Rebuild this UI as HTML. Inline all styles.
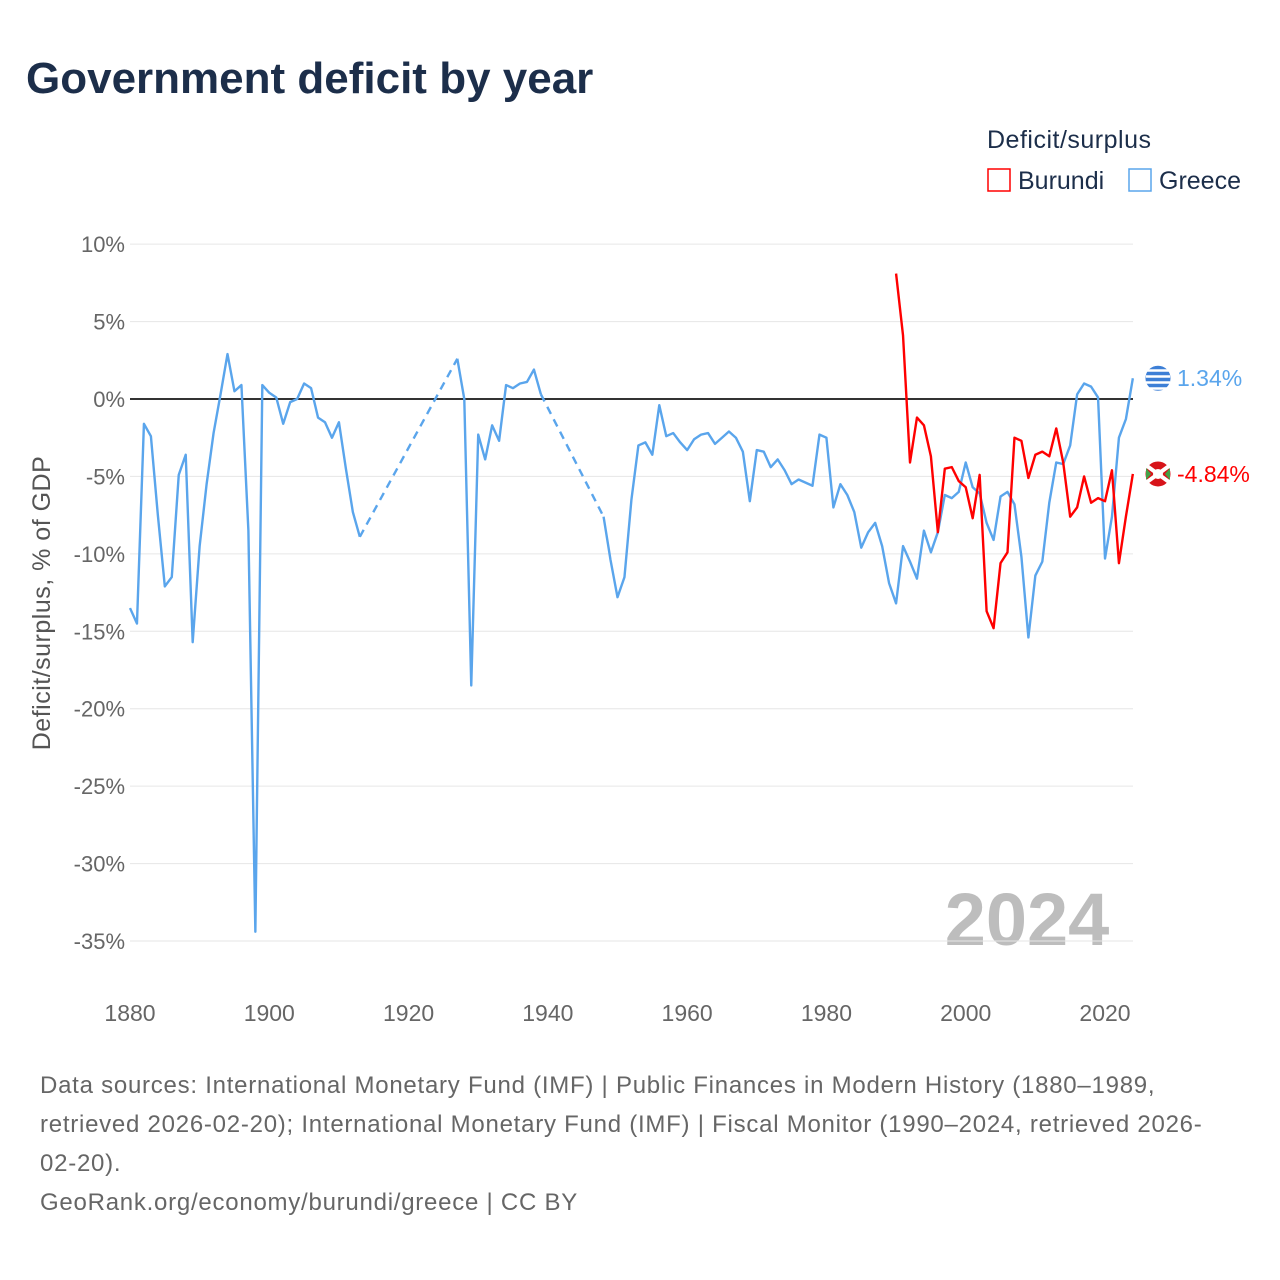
<!DOCTYPE html>
<html><head><meta charset="utf-8">
<style>
body{margin:0;background:#fff;font-family:"Liberation Sans",sans-serif;}
#wrap{position:relative;width:1280px;height:1280px;overflow:hidden;}
</style></head>
<body>
<div id="wrap">
<svg id="chart" width="1280" height="1280" style="position:absolute;left:0;top:0">
<text x="26" y="93" font-size="44" font-weight="bold" fill="#1c2e4a">Government deficit by year</text>
<text x="987" y="148" font-size="25" fill="#1c2e4a" letter-spacing="0.5">Deficit/surplus</text>
<g>
<rect x="988" y="169" width="22" height="22" fill="none" stroke="#ff0000" stroke-width="1.5"/>
<text x="1018" y="189" font-size="25" fill="#1c2e4a">Burundi</text></g>
<g>
<rect x="1129" y="169" width="22" height="22" fill="none" stroke="#5aa5ec" stroke-width="1.5"/>
<text x="1159" y="189" font-size="25" fill="#1c2e4a">Greece</text></g>
<text transform="translate(50,603) rotate(-90)" text-anchor="middle" font-size="25" fill="#555" letter-spacing="0.5">Deficit/surplus, % of GDP</text>
<text x="1027" y="945" text-anchor="middle" font-size="74" font-weight="bold" fill="#bdbdbd">2024</text>
<g id="grid"></g><g id="series"></g>
<g font-size="24" fill="#666" letter-spacing="0.75">
<text x="40" y="1093">Data sources: International Monetary Fund (IMF) | Public Finances in Modern History (1880–1989,</text>
<text x="40" y="1132">retrieved 2026-02-20); International Monetary Fund (IMF) | Fiscal Monitor (1990–2024, retrieved 2026-</text>
<text x="40" y="1171">02-20).</text>
<text x="40" y="1210">GeoRank.org/economy/burundi/greece | CC BY</text>
</g>
</svg>
</div>
<script>
const yTicks=[10,5,0,-5,-10,-15,-20,-25,-30,-35];
const xTicks=[1880,1900,1920,1940,1960,1980,2000,2020];
const greeceStart=1880;
const greeceValues=[-13.5,-14.5,-1.6,-2.4,-7.5,-12.1,-11.5,-4.9,-3.6,-15.7,-9.5,-5.5,-2.2,0.3,2.9,0.5,0.9,-8.5,-34.4,0.9,
0.4,0.1,-1.6,-0.2,0.0,1.0,0.7,-1.2,-1.5,-2.5,-1.5,-4.5,-7.3,-8.9,null,null,null,null,null,null,
null,null,null,null,null,null,null,2.6,0.0,-18.5,-2.3,-3.9,-1.7,-2.7,0.9,0.7,1.0,1.1,1.9,0.3,
null,null,null,null,null,null,null,null,-7.6,-10.4,-12.8,-11.5,-6.5,-3.0,-2.8,-3.6,-0.4,-2.4,-2.2,-2.8,
-3.3,-2.6,-2.3,-2.2,-2.9,-2.5,-2.1,-2.5,-3.4,-6.6,-3.3,-3.4,-4.4,-3.9,-4.6,-5.5,-5.2,-5.4,-5.6,-2.3,
-2.5,-7.0,-5.5,-6.2,-7.3,-9.6,-8.6,-8.0,-9.5,-11.9,-13.2,-9.5,-10.5,-11.6,-8.5,-9.9,-8.6,-6.2,-6.4,-6.0,
-4.1,-5.7,-6.1,-8.0,-9.1,-6.3,-6.0,-6.8,-10.2,-15.4,-11.4,-10.5,-6.7,-4.1,-4.2,-3.0,0.3,1.0,0.8,0.1,
-10.3,-7.6,-2.5,-1.3,1.34];
const burundiStart=1990;
const burundiValues=[8.1,4.1,-4.1,-1.2,-1.7,-3.7,-8.6,-4.5,-4.4,-5.3,-5.7,-7.7,-4.9,-13.7,-14.8,-10.6,-9.9,-2.5,-2.7,-5.1,
-3.6,-3.4,-3.7,-1.9,-4.1,-7.6,-7.0,-5.0,-6.7,-6.4,-6.6,-4.6,-10.6,-7.6,-4.84];
const NS='http://www.w3.org/2000/svg';
const X=y=>130+(y-1880)*(975/140);
const Y=v=>399-v*(542/35);
function mk(tag,attrs,parent){const e=document.createElementNS(NS,tag);for(const k in attrs)e.setAttribute(k,attrs[k]);parent.appendChild(e);return e;}
const grid=document.getElementById('grid'),ser=document.getElementById('series');
yTicks.forEach(t=>{
 const l=mk('line',{x1:130,x2:1133,y1:Y(t),y2:Y(t),stroke:t===0?'#333':'#e6e6e6','stroke-width':t===0?2:1},grid);
 
 
 const tx=mk('text',{x:125,y:Y(t)+8,'text-anchor':'end','font-size':22,fill:'#666'},grid);
 tx.textContent=t+'%';
 
 
});
xTicks.forEach(t=>{
 const tx=mk('text',{x:X(t),y:1021,'text-anchor':'middle','font-size':23,fill:'#666'},grid);
 tx.textContent=t;
 
 
});
function draw(start,vals,color,name){
 let segs=[],cur=[];
 vals.forEach((v,i)=>{if(v===null){if(cur.length)segs.push(cur);cur=[];}else cur.push([X(start+i),Y(v)]);});
 if(cur.length)segs.push(cur);
 segs.forEach((s,k)=>{
  const p=mk('polyline',{points:s.map(q=>q.join(',')).join(' '),fill:'none',stroke:color,'stroke-width':2.4,'stroke-linejoin':'round'},ser);
  
  
  if(k>0){const a=segs[k-1][segs[k-1].length-1],b=s[0];
   const d=mk('line',{x1:a[0],y1:a[1],x2:b[0],y2:b[1],stroke:color,'stroke-width':2.4,'stroke-dasharray':'8,6'},ser);
   
   }
 });
 const lv=vals[vals.length-1],ly=Y(lv);
 const c=mk('circle',{cx:1158,cy:ly,r:13,fill:name==='greece'?'#3d7fd6':'#d7141a',stroke:'#fff','stroke-width':1},ser);
 
 
 if(name==='greece'){for(let i=0;i<4;i++){const r=mk('rect',{x:1146,y:ly-9+i*6,width:24,height:2.5,fill:'#fff'},ser);}}
 else{const g=mk('path',{d:`M1147 ${ly-8}L1169 ${ly+8}M1147 ${ly+8}L1169 ${ly-8}`,stroke:'#fff','stroke-width':4},ser);
  const w=mk('circle',{cx:1158,cy:ly,r:5,fill:'#fff'},ser);
  const gl=mk('path',{d:`M1146 ${ly-6}L1146 ${ly+6}L1151 ${ly}Z M1170 ${ly-6}L1170 ${ly+6}L1165 ${ly}Z`,fill:'#43a047'},ser);}
 const t=mk('text',{x:1177,y:ly+8,'font-size':23,fill:color},ser);
 t.textContent=lv.toFixed(2)+'%';
 
 
}
draw(greeceStart,greeceValues,'#5aa5ec','greece');
draw(burundiStart,burundiValues,'#ff0000','burundi');
</script>
</body></html>
